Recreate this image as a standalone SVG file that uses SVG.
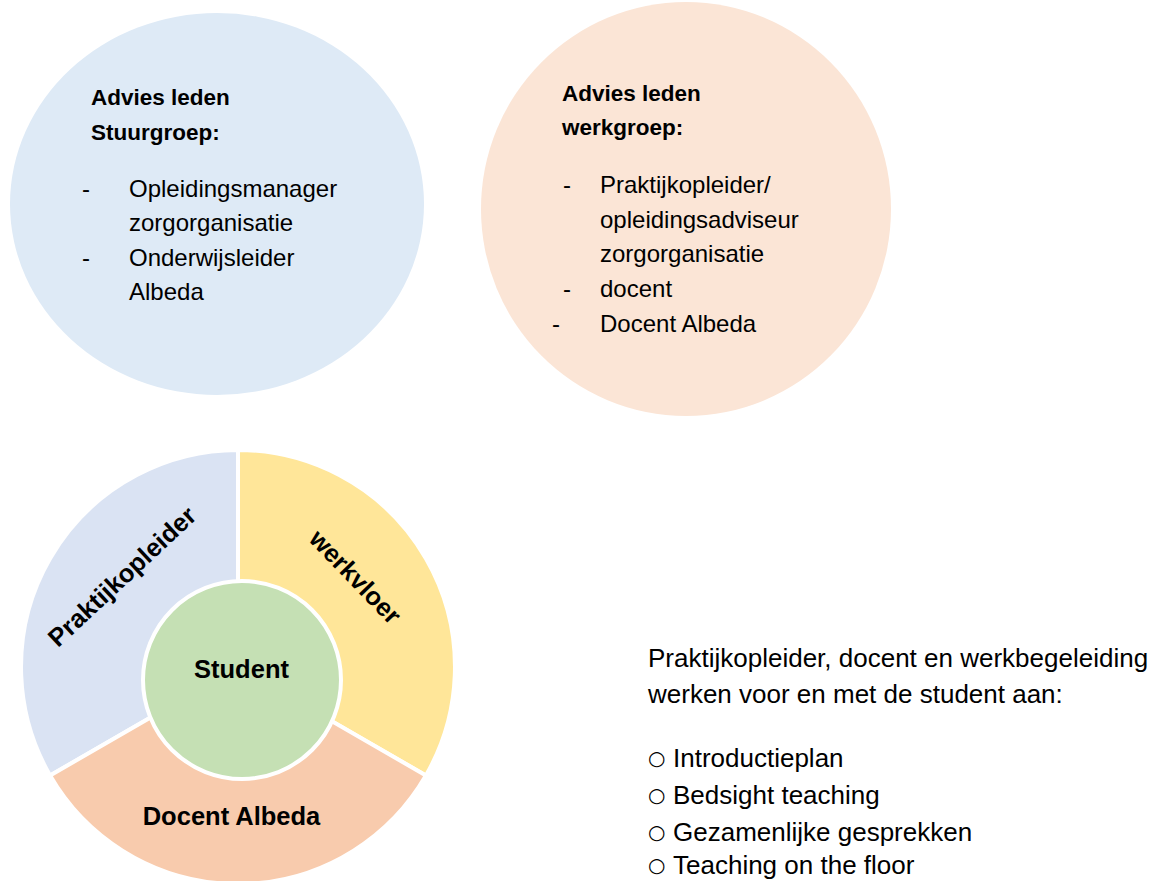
<svg xmlns="http://www.w3.org/2000/svg" width="1174" height="881" viewBox="0 0 1174 881">
<style>
text{font-family:"Liberation Sans",Arial,sans-serif;fill:#000}
.h{font-weight:bold;font-size:22.5px}
.b{font-size:24px}
.r{font-weight:bold;font-size:25.5px}
.t{font-size:26px}
.o{font-family:"DejaVu Sans",sans-serif;font-size:20px}
.seg{stroke:#fff;stroke-width:4}
</style>
<rect width="1174" height="881" fill="#fff"/>
<g id="stuurgroep">
<ellipse cx="217" cy="204" rx="207" ry="191" fill="#DEEAF6"/>
<text class="h" x="91" y="105">Advies leden</text>
<text class="h" x="91" y="140">Stuurgroep:</text>
<text class="b" x="82" y="197">-</text>
<text class="b" x="129" y="197">Opleidingsmanager</text>
<text class="b" x="129" y="231">zorgorganisatie</text>
<text class="b" x="82" y="266">-</text>
<text class="b" x="129" y="266">Onderwijsleider</text>
<text class="b" x="129" y="300">Albeda</text>
</g>
<g id="werkgroep">
<ellipse cx="686" cy="209" rx="205" ry="207" fill="#FBE5D6"/>
<text class="h" x="562" y="101">Advies leden</text>
<text class="h" x="562" y="135">werkgroep:</text>
<text class="b" x="563" y="193">-</text>
<text class="b" x="600" y="193">Praktijkopleider/</text>
<text class="b" x="600" y="228">opleidingsadviseur</text>
<text class="b" x="600" y="262">zorgorganisatie</text>
<text class="b" x="563" y="297">-</text>
<text class="b" x="600" y="297">docent</text>
<text class="b" x="552" y="332">-</text>
<text class="b" x="600" y="332">Docent Albeda</text>
</g>
<g id="praktijkopleider">
<path class="seg" d="M238,667 L50.1,775.5 A217,217 0 0 1 238,450 Z" fill="#DAE3F3"/>
<text class="r" text-anchor="middle" transform="translate(128,583) rotate(-43)">Praktijkopleider</text>
</g>
<g id="werkvloer">
<path class="seg" d="M238,667 L238,450 A217,217 0 0 1 425.9,775.5 Z" fill="#FFE699"/>
<text class="r" text-anchor="middle" transform="translate(349,583) rotate(46)">werkvloer</text>
</g>
<g id="docent">
<path class="seg" d="M238,667 L425.9,775.5 A217,217 0 0 1 50.1,775.5 Z" fill="#F8CBAD"/>
<text class="r" x="231.5" y="825" text-anchor="middle">Docent Albeda</text>
</g>
<g id="student">
<circle cx="242" cy="680" r="99" fill="#C5E0B4" stroke="#fff" stroke-width="4"/>
<text class="r" x="241.5" y="678" text-anchor="middle">Student</text>
</g>
<g id="connectors"></g>
<g id="uitleg">
<text class="t" x="648" y="667">Praktijkopleider, docent en werkbegeleiding</text>
<text class="t" x="648" y="703">werken voor en met de student aan:</text>
<text class="o" x="648" y="765">○</text>
<text class="t" x="673" y="767">Introductieplan</text>
<text class="o" x="648" y="802">○</text>
<text class="t" x="673" y="804">Bedsight teaching</text>
<text class="o" x="648" y="839">○</text>
<text class="t" x="673" y="841">Gezamenlijke gesprekken</text>
<text class="o" x="648" y="872">○</text>
<text class="t" x="673" y="874">Teaching on the floor</text>
</g>
</svg>
